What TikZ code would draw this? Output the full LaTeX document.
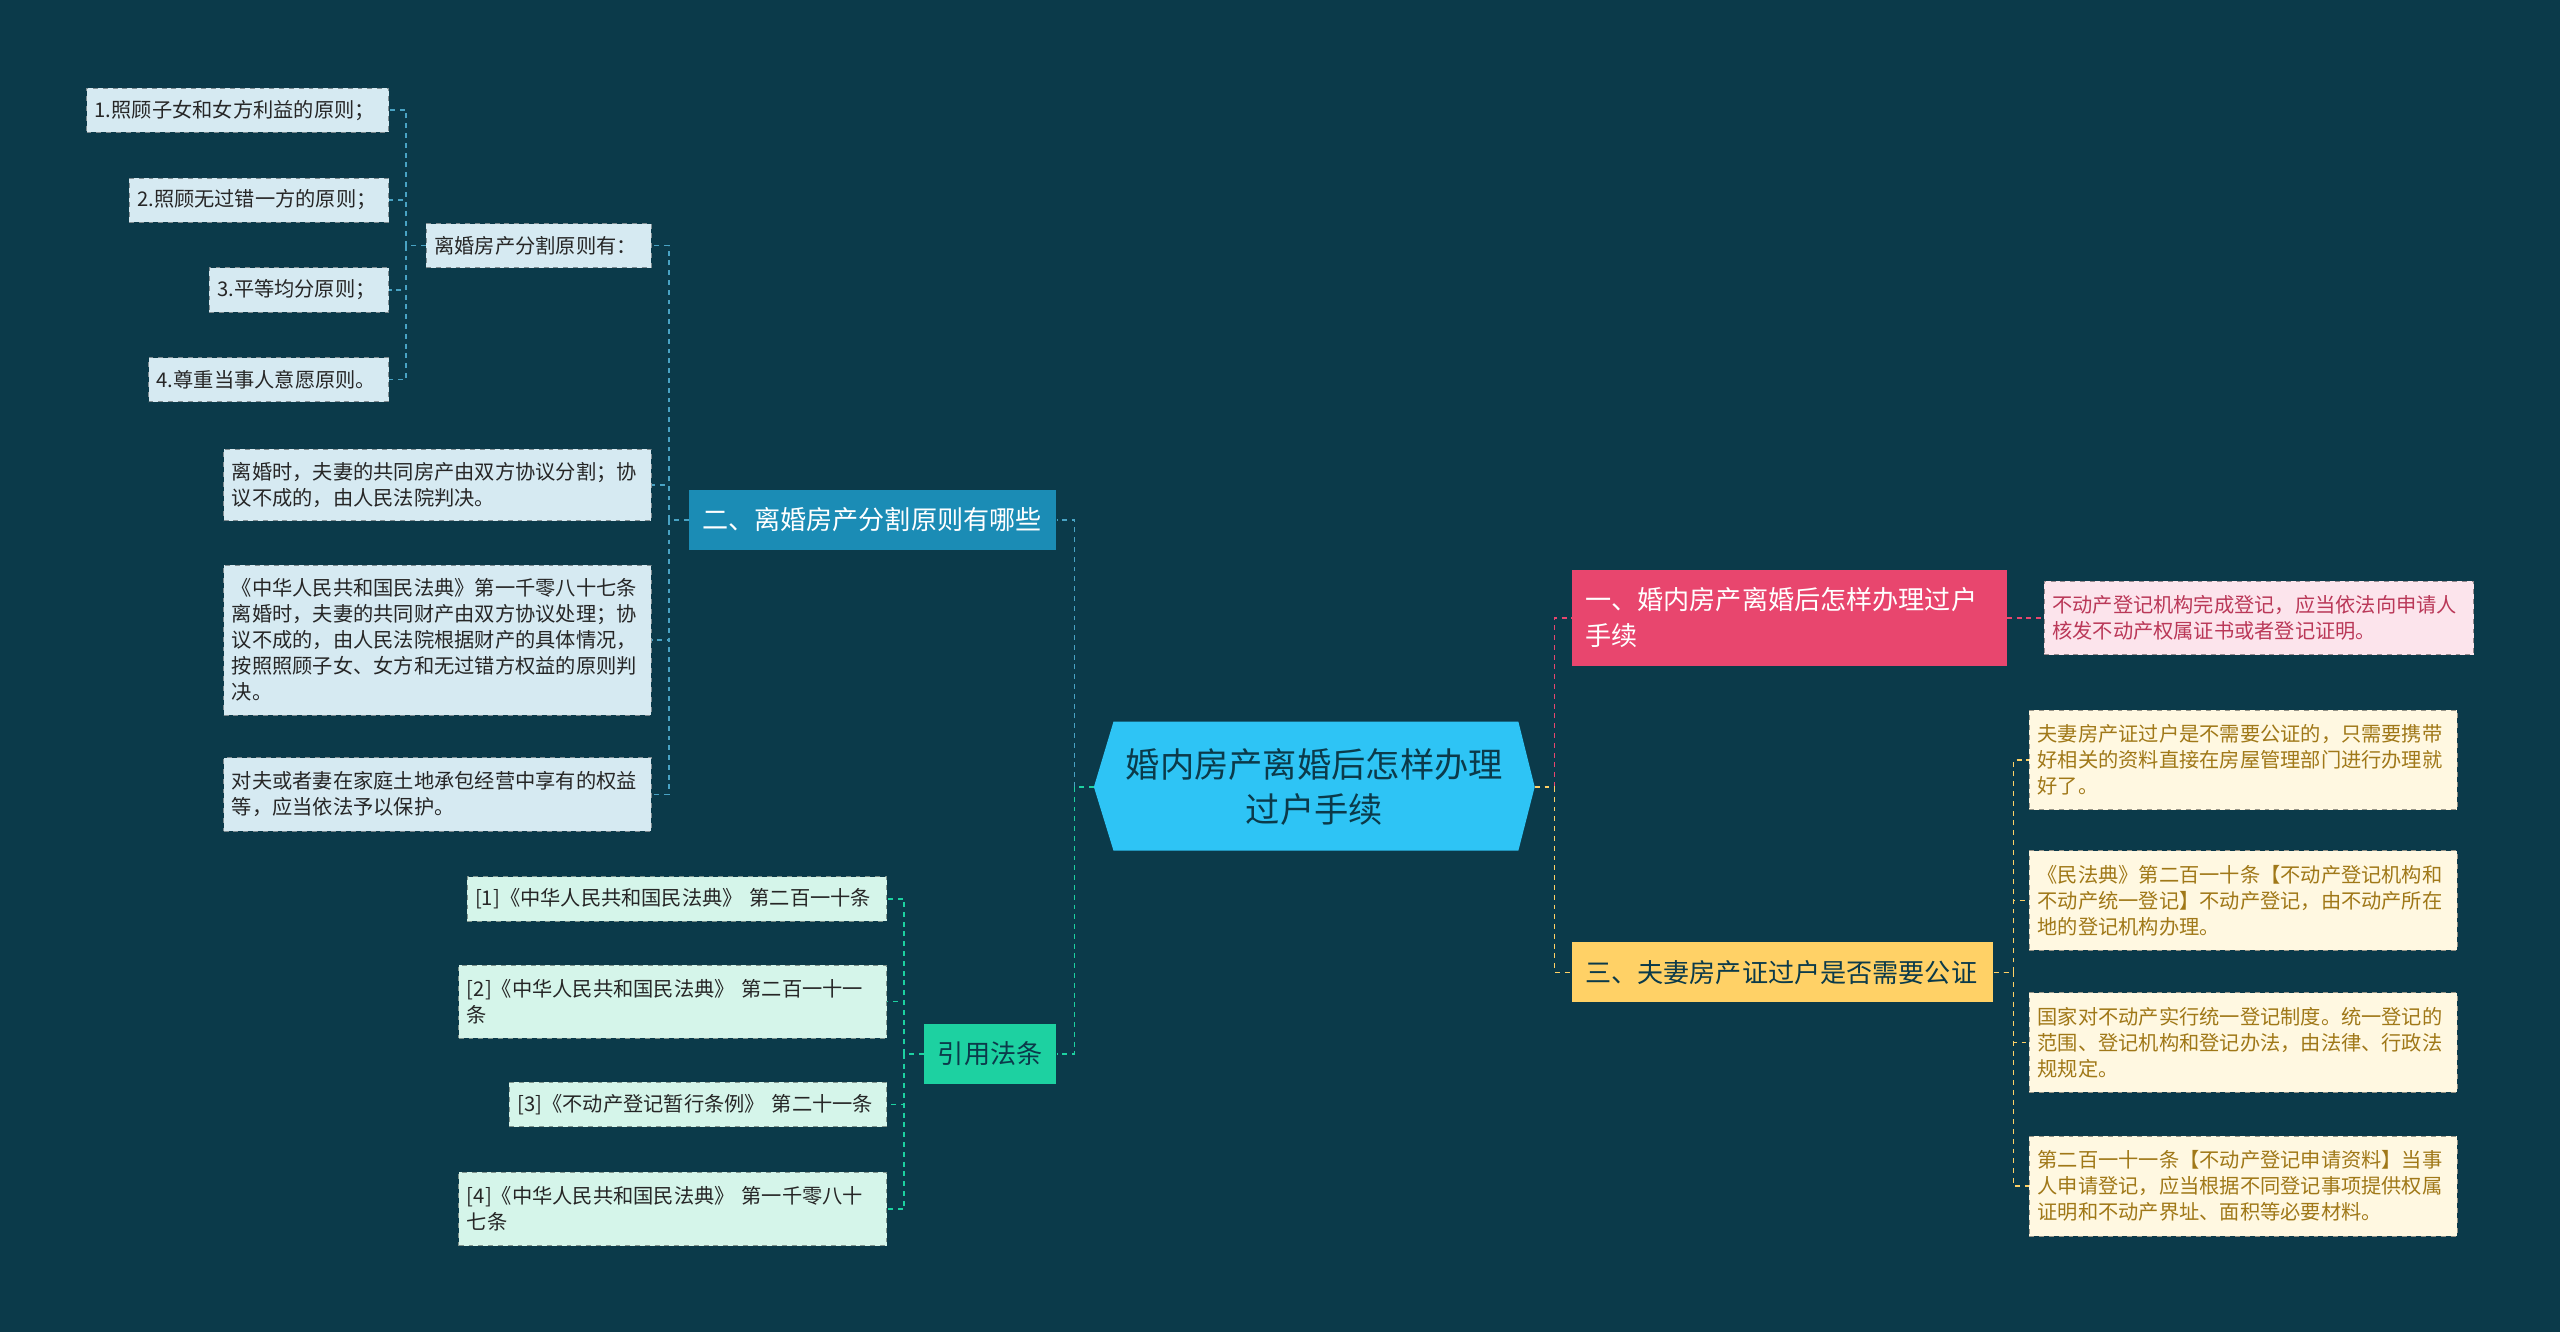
\documentclass[tikz,border=0pt]{standalone}
\usepackage{fontspec}
\setmainfont{Noto Sans CJK SC}
\XeTeXlinebreaklocale "zh"
\XeTeXlinebreakskip=0pt plus 1pt
\hbadness=10000 \hfuzz=20pt
\definecolor{bg}{HTML}{0B3A4A}
\definecolor{ctr}{HTML}{2EC4F5}
\definecolor{pk}{HTML}{E8466E}
\definecolor{pkl}{HTML}{FCE4EC}
\definecolor{yl}{HTML}{FFD166}
\definecolor{yll}{HTML}{FFF8E1}
\definecolor{ytx}{HTML}{A07818}
\definecolor{bl}{HTML}{1B8CB5}
\definecolor{bll}{HTML}{D6EAF2}
\definecolor{gr}{HTML}{1DD1A1}
\definecolor{grl}{HTML}{D5F5EA}
\begin{document}
\begin{tikzpicture}[x=1pt,y=-1pt,
 box/.style={minimum width=#1, text width=#1-10, inner sep=0pt, align=left, font=\fontsize{12.4}{16}\selectfont},
 leafb/.style={box=#1, fill=bll, draw=bll!60!black, dashed, text=black!85},
 leafg/.style={box=#1, fill=grl, draw=grl!60!black, dashed, text=black!85},
 leafy/.style={box=#1, fill=yll, draw=yll!60!black, dashed, text=ytx},
 leafp/.style={box=#1, fill=pkl, draw=pkl!60!black, dashed, text=pk!80!black},
 brn/.style={box=#1, text width=#1-16, font=\fontsize{16}{22}\selectfont},
 conn/.style={dashed, line width=0.9pt}]
\fill[bg] (0,0) rectangle (1568,816);
\useasboundingbox (0,0) rectangle (1568,816);
% center
\fill[ctr] (670,482)--(682,442)--(930,442)--(940,482)--(930,521)--(682,521)--cycle;
\node[align=center, font=\fontsize{21}{27}\selectfont, text=bg] (c) at (805,482) {婚内房产离婚后怎样办理\\过户手续};
\coordinate (cL) at (670,482); \coordinate (cR) at (940,482);
% right
\node[brn=266, fill=pk, text=white, minimum height=59] (p) at (1096,378.5) {一、婚内房产离婚后怎样办理过户\\手续};
\node[leafp=263, minimum height=45] (p1) at (1383.5,378.5) {不动产登记机构完成登记，应当依法向申请人\\核发不动产权属证书或者登记证明。};
\node[brn=258, fill=yl, text=bg, minimum height=37] (y) at (1092,595.5) {三、夫妻房产证过户是否需要公证};
\node[leafy=262, minimum height=61] (y1) at (1374,465.5) {夫妻房产证过户是不需要公证的，只需要携带\\好相关的资料直接在房屋管理部门进行办理就\\好了。};
\node[leafy=262, minimum height=61] (y2) at (1374,551.5) {《民法典》第二百一十条【不动产登记机构和\\不动产统一登记】不动产登记，由不动产所在\\地的登记机构办理。};
\node[leafy=262, minimum height=61] (y3) at (1374,638.5) {国家对不动产实行统一登记制度。统一登记的\\范围、登记机构和登记办法，由法律、行政法\\规规定。};
\node[leafy=262, minimum height=61] (y4) at (1374,726.5) {第二百一十一条【不动产登记申请资料】当事\\人申请登记，应当根据不同登记事项提供权属\\证明和不动产界址、面积等必要材料。};
% left blue
\node[brn=225, fill=bl, text=white, minimum height=37] (b) at (534.5,318.5) {二、离婚房产分割原则有哪些};
\node[leafb=138, minimum height=27] (b0) at (330,150.5) {离婚房产分割原则有：};
\node[leafb=185, minimum height=27] (b01) at (145.5,67.5) {1.照顾子女和女方利益的原则；};
\node[leafb=159, minimum height=27] (b02) at (158.5,122.5) {2.照顾无过错一方的原则；};
\node[leafb=110, minimum height=27] (b03) at (183,177.5) {3.平等均分原则；};
\node[leafb=147, minimum height=27] (b04) at (164.5,232.5) {4.尊重当事人意愿原则。};
\node[leafb=262, minimum height=44] (b1) at (268,297) {离婚时，夫妻的共同房产由双方协议分割；协\\议不成的，由人民法院判决。};
\node[leafb=262, minimum height=92] (b2) at (268,392) {《中华人民共和国民法典》第一千零八十七条\\离婚时，夫妻的共同财产由双方协议处理；协\\议不成的，由人民法院根据财产的具体情况，\\按照照顾子女、女方和无过错方权益的原则判\\决。};
\node[leafb=262, minimum height=45] (b3) at (268,486.5) {对夫或者妻在家庭土地承包经营中享有的权益\\等，应当依法予以保护。};
% left green
\node[brn=81, fill=gr, text=bg, minimum height=37, align=center] (g) at (606.5,645.5) {引用法条};
\node[leafg=257, minimum height=27] (g1) at (414.5,550.5) {[1]《中华人民共和国民法典》 第二百一十条};
\node[leafg=262, minimum height=45] (g2) at (412,613.5) {[2]《中华人民共和国民法典》 第二百一十一\\条};
\node[leafg=231, minimum height=27] (g3) at (427.5,676.5) {[3]《不动产登记暂行条例》 第二十一条};
\node[leafg=262, minimum height=45] (g4) at (412,740.5) {[4]《中华人民共和国民法典》 第一千零八十\\七条};
% connectors
\draw[conn, pk] (cR) -- ++(12,0) |- (p.west);
\draw[conn, yl] (cR) -- ++(12,0) |- (y.west);
\draw[conn, pk] (p.east) -- (p1.west);
\foreach \n in {y1,y2,y3,y4} \draw[conn, yl] (y.east) -- ++(12,0) |- (\n.west);
\draw[conn, bl!80!white] (cL) -- ++(-12,0) |- (b.east);
\draw[conn, gr] (cL) -- ++(-12,0) |- (g.east);
\foreach \n in {b0,b1,b2,b3} \draw[conn, bl!80!white] (b.west) -- ++(-12,0) |- (\n.east);
\foreach \n in {b01,b02,b03,b04} \draw[conn, bl!80!white] (b0.west) -- ++(-12,0) |- (\n.east);
\foreach \n in {g1,g2,g3,g4} \draw[conn, gr] (g.west) -- ++(-12,0) |- (\n.east);
\end{tikzpicture}
\end{document}
